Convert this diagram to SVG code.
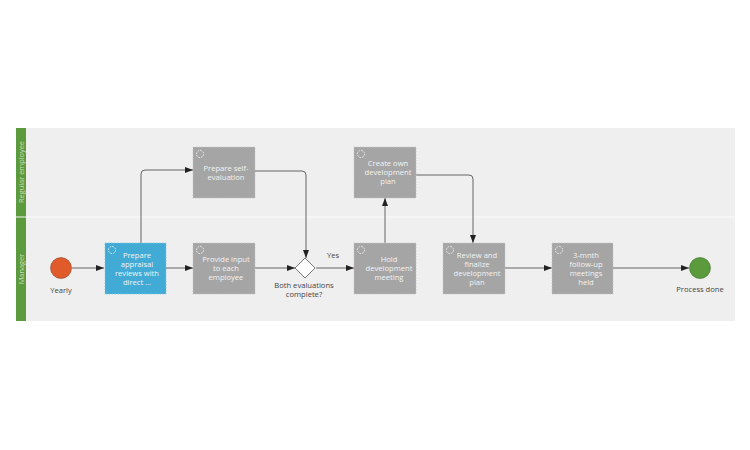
<svg xmlns="http://www.w3.org/2000/svg" width="750" height="450" viewBox="0 0 750 450">
<style>
.lbl{font-family:"Open Sans","Noto Sans",sans-serif;font-size:7.6px;text-anchor:middle}
.tw{fill:#f4f4f4}
.td{fill:#444}
.lane{font-family:"Open Sans","Noto Sans",sans-serif;font-size:7.4px;text-anchor:middle;fill:#c9dcb9}
.task{fill:#a5a5a5;stroke:#c4c4c4;stroke-width:0.8;stroke-dasharray:1.5 1.5}
.blue{fill:#41abd6;stroke:#7cc6e4;stroke-width:0.8;stroke-dasharray:1.5 1.5}
.loop{fill:none;stroke:#f2f2f2;stroke-width:0.9;stroke-dasharray:1.6 1.2}
.conn{fill:none;stroke:#555;stroke-width:0.9}
</style>
<defs>
<marker id="arr" viewBox="0 0 8 6" refX="8" refY="3" markerWidth="8" markerHeight="6" markerUnits="userSpaceOnUse" orient="auto">
<path d="M0,0 L8,3 L0,6 Z" fill="#222"/>
</marker>
</defs>
<g id="pool">
<rect x="16" y="128" width="719" height="193" fill="#efefef"/>
<rect x="16" y="128" width="10" height="193" fill="#5b9a3d"/>
<line x1="16" y1="217" x2="735" y2="217" stroke="#fbfbfb" stroke-width="1"/>
<text class="lane" transform="translate(24,172) rotate(-90)">Regular employee</text>
<text class="lane" transform="translate(24,269) rotate(-90)">Manager</text>
</g>
<g id="connectors">
<line class="conn" x1="72" y1="268" x2="104" y2="268" marker-end="url(#arr)"/>
<line class="conn" x1="166" y1="268" x2="193" y2="268" marker-end="url(#arr)"/>
<path class="conn" d="M141,243 V174 Q141,170 145,170 H193" marker-end="url(#arr)"/>
<path class="conn" d="M255,171 H302 Q306,171 306,175 V258" marker-end="url(#arr)"/>
<line class="conn" x1="255" y1="268" x2="295" y2="268" marker-end="url(#arr)"/>
<line class="conn" x1="316" y1="268" x2="354" y2="268" marker-end="url(#arr)"/>
<text class="lbl td" x="333" y="258">Yes</text>
<line class="conn" x1="385" y1="243" x2="385" y2="198" marker-end="url(#arr)"/>
<path class="conn" d="M416,175 H469 Q473,175 473,179 V243" marker-end="url(#arr)"/>
<line class="conn" x1="505" y1="268" x2="552" y2="268" marker-end="url(#arr)"/>
<line class="conn" x1="613" y1="268" x2="689" y2="268" marker-end="url(#arr)"/>
</g>
<g id="start">
<circle cx="61" cy="268" r="10.5" fill="#e05a2c" stroke="#8a4a30" stroke-width="0.6"/>
<text class="lbl td" x="61" y="293">Yearly</text>
</g>
<g id="t1">
<rect class="blue" x="105" y="243" width="61" height="51"/>
<circle class="loop" cx="112" cy="250" r="3.6"/>
<text class="lbl tw" x="137"><tspan x="137" y="258">Prepare</tspan><tspan x="137" y="267">appraisal</tspan><tspan x="137" y="276">reviews with</tspan><tspan x="137" y="285">direct ...</tspan></text>
</g>
<g id="t2">
<rect class="task" x="193" y="147" width="62" height="51"/>
<circle class="loop" cx="200" cy="154" r="3.6"/>
<text class="lbl tw"><tspan x="226" y="171">Prepare self-</tspan><tspan x="226" y="180">evaluation</tspan></text>
</g>
<g id="t3">
<rect class="task" x="193" y="243" width="62" height="51"/>
<circle class="loop" cx="200" cy="250" r="3.6"/>
<text class="lbl tw"><tspan x="226" y="262">Provide input</tspan><tspan x="226" y="271">to each</tspan><tspan x="226" y="280">employee</tspan></text>
</g>
<g id="gateway">
<polygon points="305,258 315,268 305,278 295,268" fill="#fff" stroke="#555" stroke-width="0.8"/>
<text class="lbl td" x="304" y="288">Both evaluations</text>
<text class="lbl td" x="304" y="297">complete?</text>
</g>
<g id="t4">
<rect class="task" x="354" y="243" width="62" height="51"/>
<circle class="loop" cx="361" cy="250" r="3.6"/>
<text class="lbl tw"><tspan x="389" y="262">Hold</tspan><tspan x="389" y="271">development</tspan><tspan x="389" y="280">meeting</tspan></text>
</g>
<g id="t5">
<rect class="task" x="354" y="147" width="62" height="51"/>
<circle class="loop" cx="361" cy="154" r="3.6"/>
<text class="lbl tw"><tspan x="388" y="166">Create own</tspan><tspan x="388" y="175">development</tspan><tspan x="388" y="184">plan</tspan></text>
</g>
<g id="t6">
<rect class="task" x="443" y="243" width="62" height="51"/>
<circle class="loop" cx="450" cy="250" r="3.6"/>
<text class="lbl tw"><tspan x="477" y="258">Review and</tspan><tspan x="477" y="267">finalize</tspan><tspan x="477" y="276">development</tspan><tspan x="477" y="285">plan</tspan></text>
</g>
<g id="t7">
<rect class="task" x="552" y="243" width="61" height="51"/>
<circle class="loop" cx="559" cy="250" r="3.6"/>
<text class="lbl tw"><tspan x="586" y="258">3-mnth</tspan><tspan x="586" y="267">follow-up</tspan><tspan x="586" y="276">meetings</tspan><tspan x="586" y="285">held</tspan></text>
</g>
<g id="end">
<circle cx="700" cy="268" r="10.5" fill="#5b9a3d" stroke="#3f6e2b" stroke-width="0.6"/>
<text class="lbl td" x="700" y="292">Process done</text>
</g>
</svg>
